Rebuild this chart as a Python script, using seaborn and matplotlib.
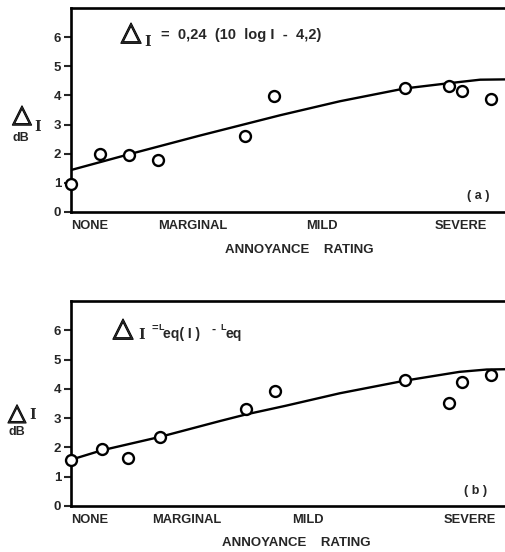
import matplotlib
matplotlib.use("Agg")
import matplotlib.pyplot as plt
import matplotlib.patheffects as pe
import seaborn as sns

# ---- data (x in annoyance-scale units, NONE = 0) ----
rating_a = [0.0, 0.22, 0.45, 0.67, 1.34, 1.56, 2.57, 2.91, 3.01, 3.23]
delta_a = [0.97, 1.98, 1.95, 1.80, 2.60, 3.97, 4.27, 4.33, 4.14, 3.89]
curve_x_a = [0.0, 0.446, 0.99, 1.61, 2.07, 2.57, 2.91, 3.15, 3.34]
curve_y_a = [1.44, 1.98, 2.62, 3.32, 3.80, 4.24, 4.42, 4.54, 4.55]

rating_b = [0.0, 0.24, 0.44, 0.685, 1.35, 1.57, 2.57, 2.91, 3.01, 3.23]
delta_b = [1.58, 1.93, 1.64, 2.36, 3.30, 3.93, 4.31, 3.53, 4.22, 4.47]
curve_x_b = [0.0, 0.236, 0.685, 1.146, 1.35, 1.65, 2.07, 2.57, 2.99, 3.2, 3.34]
curve_y_b = [1.58, 1.90, 2.36, 2.90, 3.13, 3.42, 3.85, 4.28, 4.58, 4.66, 4.67]

cat_labels = ["NONE", "MARGINAL", "MILD", "SEVERE"]
cat_pos_a = [0.0, 0.935, 1.935, 3.0]
cat_pos_b = [0.0, 0.89, 1.82, 3.07]
y_ticks = [0, 1, 2, 3, 4, 5, 6]

sns.set_style("ticks")
plt.rcParams["font.family"] = ["Liberation Sans", "DejaVu Sans"]
plt.rcParams["font.weight"] = "bold"

W, H = 505, 552
fig = plt.figure(figsize=(W / 100, H / 100), dpi=100)
ax_a = fig.add_axes([71 / W, 1 - 212 / H, 1 - 71 / W + 0.01, (212 - 8) / H])
ax_b = fig.add_axes([71 / W, 1 - 506 / H, 1 - 71 / W + 0.01, (506 - 301) / H])


def fx(px):
    return px / W


def fy(py):
    return 1 - py / H


def draw(ax, rx, dy, cx, cy, cpos):
    sns.lineplot(x=cx, y=cy, ax=ax, color="black", linewidth=1.7, zorder=2)
    sns.scatterplot(x=rx, y=dy, ax=ax, marker="o", s=62, facecolor="white",
                    edgecolor="black", linewidth=1.7, zorder=3, clip_on=False)
    ax.set_xlim(0, 3.34 + 0.04)
    ax.set_ylim(0, 7)
    ax.set_yticks(y_ticks)
    ax.set_yticklabels([str(t) for t in y_ticks], fontsize=9.5, fontweight="bold")
    ax.set_xticks(cpos)
    ax.set_xticklabels(cat_labels, fontsize=9.3, fontweight="bold")
    ax.get_xticklabels()[0].set_ha("left")
    ax.tick_params(axis="x", length=0, pad=6)
    ax.tick_params(axis="y", length=5, width=1.5, direction="out", pad=2)
    for s in ["left", "bottom", "top"]:
        ax.spines[s].set_linewidth(1.9)
        ax.spines[s].set_color("black")
    ax.spines["right"].set_visible(False)
    ax.set_xlabel("")
    ax.set_ylabel("")


draw(ax_a, rating_a, delta_a, curve_x_a, curve_y_a, cat_pos_a)
draw(ax_b, rating_b, delta_b, curve_x_b, curve_y_b, cat_pos_b)

bold_fx = [pe.withStroke(linewidth=0.9, foreground="black")]

# x-axis titles
fig.text(fx(299), fy(250), "ANNOYANCE    RATING", ha="center", va="center",
         fontsize=9.5, fontweight="bold")
fig.text(fx(296), fy(543), "ANNOYANCE    RATING", ha="center", va="center",
         fontsize=9.5, fontweight="bold")

# y-axis labels
fig.text(fx(22), fy(115), "\u25b3", ha="center", va="center",
         fontsize=18, family="DejaVu Sans", path_effects=bold_fx)
fig.text(fx(38), fy(127), "I", ha="center", va="center",
         fontsize=10, fontweight="bold", family="DejaVu Serif")
fig.text(fx(21), fy(138), "dB", ha="center", va="center",
         fontsize=9, fontweight="bold")

fig.text(fx(17), fy(413), "\u25b3", ha="center", va="center",
         fontsize=17, family="DejaVu Sans", path_effects=bold_fx)
fig.text(fx(33), fy(415), "I", ha="center", va="center",
         fontsize=10, fontweight="bold", family="DejaVu Serif")
fig.text(fx(17), fy(432), "dB", ha="center", va="center",
         fontsize=9, fontweight="bold")

# formula (a)
fig.text(fx(131), fy(33), "\u25b3", ha="center", va="center",
         fontsize=19, family="DejaVu Sans", path_effects=bold_fx)
fig.text(fx(148), fy(42), "I", ha="center", va="center",
         fontsize=10, fontweight="bold", family="DejaVu Serif")
fig.text(fx(161), fy(35), "=  0,24  (10  log I  -  4,2)", ha="left", va="center",
         fontsize=10.5, fontweight="bold")

# formula (b)
fig.text(fx(123), fy(329), "\u25b3", ha="center", va="center",
         fontsize=19, family="DejaVu Sans", path_effects=bold_fx)
fig.text(fx(142), fy(335), "I", ha="center", va="center",
         fontsize=10, fontweight="bold", family="DejaVu Serif")
fig.text(fx(151), fy(328), "=", ha="left", va="center",
         fontsize=8, fontweight="bold")
fig.text(fx(158), fy(327), "L", ha="left", va="center",
         fontsize=6.5, fontweight="bold")
fig.text(fx(163), fy(334), "eq( I )", ha="left", va="center",
         fontsize=10, fontweight="bold")
fig.text(fx(211), fy(330), "-", ha="left", va="center",
         fontsize=9, fontweight="bold")
fig.text(fx(220), fy(327), "L", ha="left", va="center",
         fontsize=6.5, fontweight="bold")
fig.text(fx(225), fy(334), "eq", ha="left", va="center",
         fontsize=10, fontweight="bold")

# panel tags
fig.text(fx(478), fy(196), "( a )", ha="center", va="center",
         fontsize=9, fontweight="bold")
fig.text(fx(476), fy(491), "( b )", ha="center", va="center",
         fontsize=9, fontweight="bold")

fig.savefig("out.png", dpi=100)
